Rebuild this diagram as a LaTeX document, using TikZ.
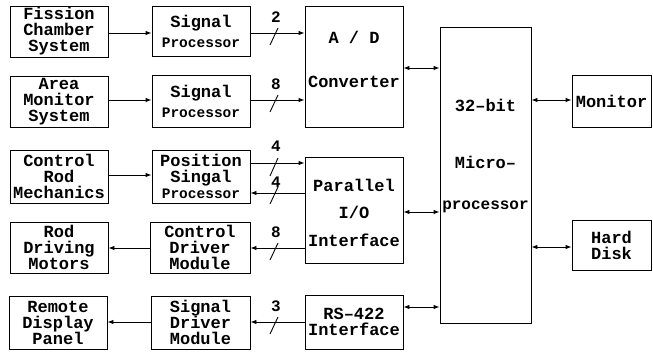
\documentclass[tikz,border=0pt]{standalone}
\usepackage{fontspec}
\setmainfont{Liberation Mono}
\usetikzlibrary{arrows.meta}
\newcommand\fsA{\fontsize{17}{16}\selectfont}
\newcommand\fsB{\fontsize{14.5}{16}\selectfont}
\begin{document}
\begin{tikzpicture}[x=1pt,y=-1pt,
  box/.style={draw, line width=0.9pt, inner sep=0pt, align=center, font=\fsA\bfseries},
  lbl/.style={inner sep=0pt, font=\fsA\bfseries},
  num/.style={inner sep=0pt, font=\fontsize{16}{16}\selectfont\bfseries},
  arr/.style={line width=0.9pt, -{Latex[length=6pt,width=4.5pt]}},
  darr/.style={line width=0.9pt, {Latex[length=6pt,width=4.5pt]}-{Latex[length=6pt,width=4.5pt]}},
  sl/.style={line width=0.9pt}]
\useasboundingbox (0,0) rectangle (653,352);
% left column
\node[box, minimum width=98pt, minimum height=51pt] (fis) at (59,31.5) {Fission\\Chamber\\System};
\node[box, minimum width=98pt, minimum height=51pt] (area) at (59,101.5) {Area\\Monitor\\System};
\node[box, minimum width=98pt, minimum height=53pt] (crm) at (59,176.5) {Control\\Rod\\Mechanics};
\node[box, minimum width=98pt, minimum height=51pt] (rdm) at (59,247.5) {Rod\\Driving\\Motors};
\node[box, minimum width=98pt, minimum height=53pt] (rdp) at (58,322.5) {Remote\\Display\\Panel};
% second column
\node[box, minimum width=98pt, minimum height=50pt] (sp1) at (201,31) {Signal\\[4pt]{\fsB Processor}};
\node[box, minimum width=98pt, minimum height=52pt] (sp2) at (201,101) {Signal\\[4pt]{\fsB Processor}};
\node[box, minimum width=98pt, minimum height=53pt] (psp) at (201,176.5) {Position\\Singal\\{\fsB Processor}};
\node[box, minimum width=100pt, minimum height=51pt] (cdm) at (200,247.5) {Control\\Driver\\Module};
\node[box, minimum width=99pt, minimum height=53pt] (sdm) at (200.5,322.5) {Signal\\Driver\\Module};
% third column
\node[box, minimum width=98pt, minimum height=121pt] (ad) at (354,66.5) {};
\node[lbl] (adA) at (354,37) {A / D};
\node[lbl] (adB) at (354,82) {Converter};
\node[box, minimum width=98pt, minimum height=106pt] (pio) at (354,210) {};
\node[lbl] (pioA) at (354,185) {Parallel};
\node[lbl] (pioB) at (354,212) {I/O};
\node[lbl] (pioC) at (354,240) {Interface};
\node[box, minimum width=98pt, minimum height=54pt] (rs) at (354,322) {RS--422\\Interface};
% microprocessor
\node[box, minimum width=91pt, minimum height=296pt] (mp) at (485.5,175) {};
\node[lbl] (mpA) at (485.5,105) {32--bit};
\node[lbl] (mpB) at (485.5,162) {Micro--};
\node[lbl] (mpC) at (485.5,207) {\fontsize{16}{16}\selectfont processor};
% right column
\node[box, minimum width=79pt, minimum height=52pt] (mon) at (611.5,101) {Monitor};
\node[box, minimum width=79pt, minimum height=50pt] (hd) at (611.5,245) {Hard\\Disk};
% arrows left
\draw[arr] (fis.east |- 0,33) -- (sp1.west |- 0,33);
\draw[arr] (area.east |- 0,100) -- (sp2.west |- 0,100);
\draw[arr] (crm.east |- 0,175) -- (psp.west |- 0,175);
\draw[arr] (cdm.west |- 0,248) -- (rdm.east |- 0,248);
\draw[arr] (sdm.west |- 0,322) -- (rdp.east |- 0,322);
% bus arrows
\draw[arr] (sp1.east |- 0,33) -- (ad.west |- 0,33);
\draw[sl] (270,45) -- (278,28); \node[num] (n1) at (276,17) {2};
\draw[arr] (sp2.east |- 0,100) -- (ad.west |- 0,100);
\draw[sl] (270,112) -- (278,95); \node[num] (n2) at (276,84) {8};
\draw[arr] (psp.east |- 0,163) -- (pio.west |- 0,163);
\draw[sl] (270,176) -- (278,158); \node[num] (n3) at (276,146) {4};
\draw[arr] (pio.west |- 0,193) -- (psp.east |- 0,193);
\draw[sl] (270,204) -- (278,187); \node[num] (n4) at (276,182) {4};
\draw[arr] (pio.west |- 0,248) -- (cdm.east |- 0,248);
\draw[sl] (270,260) -- (278,243); \node[num] (n5) at (276,232) {8};
\draw[arr] (rs.west |- 0,322) -- (sdm.east |- 0,322);
\draw[sl] (270,334) -- (278,317); \node[num] (n6) at (276,306) {3};
% microprocessor links
\draw[darr] (ad.east |- 0,68) -- (mp.west |- 0,68);
\draw[darr] (pio.east |- 0,212) -- (mp.west |- 0,212);
\draw[darr] (rs.east |- 0,307) -- (mp.west |- 0,307);
\draw[darr] (mp.east |- 0,100) -- (mon.west |- 0,100);
\draw[darr] (mp.east |- 0,247) -- (hd.west |- 0,247);
\end{tikzpicture}
\end{document}
